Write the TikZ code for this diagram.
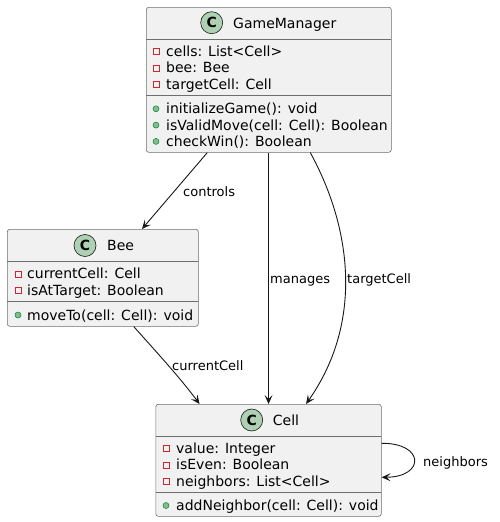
\documentclass[tikz,border=0pt]{standalone}
\usepackage{fontspec}
\setmainfont{DejaVu Sans}
\usetikzlibrary{arrows.meta}
\definecolor{boxfill}{HTML}{F1F1F1}
\definecolor{boxline}{HTML}{181818}
\definecolor{boxedge}{HTML}{6E6E6E}
\definecolor{circfill}{HTML}{ADD1B2}
\definecolor{privred}{HTML}{C82930}
\definecolor{pubfill}{HTML}{84BE84}
\definecolor{publine}{HTML}{038048}
\begin{document}
\begin{tikzpicture}[x=1pt,y=-1pt,
  classbox/.style={draw=boxedge,line width=0.6pt,fill=boxfill,rounded corners=2.5pt,inner sep=0pt,anchor=north west},
  member/.style={anchor=base west,inner sep=0pt,font=\fontsize{14}{16}\selectfont,text=black},
  elabel/.style={anchor=base west,inner sep=0pt,font=\fontsize{13}{15}\selectfont,text=black},
  cicon/.style={circle,draw=boxline,line width=0.6pt,fill=circfill,minimum size=22pt,inner sep=0pt,font=\fontsize{14}{16}\selectfont\bfseries},
  priv/.style={rectangle,draw=privred,line width=0.6pt,minimum size=6pt,inner sep=0pt},
  pub/.style={circle,draw=publine,fill=pubfill,line width=0.5pt,minimum size=6pt,inner sep=0pt},
  sepline/.style={draw=boxedge,line width=0.6pt},
  conn/.style={draw=boxline,line width=0.9pt,-{Stealth[length=9pt,width=8pt,inset=4pt]}}
]
\useasboundingbox (0,0) rectangle (499,522);

% ---------- GameManager ----------
\node[classbox,minimum width=245pt,minimum height=145pt] (gm) at (146,7) {};
\draw[sepline] (146,39) -- (391,39);
\draw[sepline] (146,95.5) -- (391,95.5);
\node[cicon] (gmc) at (211.7,22.7) {C};
\node[member] (gmt) at (233,28) {GameManager};
\node[priv] (gmi1) at (156,51.5) {};
\node[member] (gma1) at (166,56.5) {cells: List<Cell>};
\node[priv] (gmi2) at (156,67.8) {};
\node[member] (gma2) at (166,72.8) {bee: Bee};
\node[priv] (gmi3) at (156,84.1) {};
\node[member] (gma3) at (166,89.1) {targetCell: Cell};
\node[pub] (gmi4) at (156,108.8) {};
\node[member] (gmm1) at (166,113.8) {initializeGame(): void};
\node[pub] (gmi5) at (156,125.1) {};
\node[member] (gmm2) at (166,130.1) {isValidMove(cell: Cell): Boolean};
\node[pub] (gmi6) at (156,141.4) {};
\node[member] (gmm3) at (166,146.4) {checkWin(): Boolean};

% ---------- Bee ----------
\node[classbox,minimum width=191pt,minimum height=97pt] (bee) at (7,229) {};
\draw[sepline] (7,261.5) -- (198,261.5);
\draw[sepline] (7,301.6) -- (198,301.6);
\node[cicon] (beec) at (85,245.5) {C};
\node[member] (beet) at (107,250.5) {Bee};
\node[priv] (beei1) at (18,273.8) {};
\node[member] (beea1) at (27,278.8) {currentCell: Cell};
\node[priv] (beei2) at (18,290.1) {};
\node[member] (beea2) at (27,295.1) {isAtTarget: Boolean};
\node[pub] (beei3) at (18,315) {};
\node[member] (beem1) at (27,320) {moveTo(cell: Cell): void};

% ---------- Cell ----------
\node[classbox,minimum width=225.5pt,minimum height=112pt] (cell) at (155.5,404) {};
\draw[sepline] (155.5,436) -- (381,436);
\draw[sepline] (155.5,492.6) -- (381,492.6);
\node[cicon] (cellc) at (251.7,420) {C};
\node[member] (cellt) at (272.7,425) {Cell};
\node[priv] (celli1) at (166,448.5) {};
\node[member] (cella1) at (176,453.5) {value: Integer};
\node[priv] (celli2) at (166,464.8) {};
\node[member] (cella2) at (176,469.8) {isEven: Boolean};
\node[priv] (celli3) at (166,481.1) {};
\node[member] (cella3) at (176,486.1) {neighbors: List<Cell>};
\node[pub] (celli4) at (166,505.5) {};
\node[member] (cellm1) at (176,510.5) {addNeighbor(cell: Cell): void};

% ---------- connectors ----------
\draw[conn] ([xshift=-61.5pt]gm.south) -- ([xshift=39.2pt]bee.north);
\draw[conn] ([xshift=-0.25pt]gm.south) -- (cell.north);
\draw[conn] ([xshift=41.5pt]gm.south) .. controls (350,225) and (365,320) .. ([xshift=37.5pt]cell.north);
\draw[conn] ([xshift=31pt]bee.south) .. controls (150,345) and (178,375) .. ([xshift=-69pt]cell.north);
\draw[conn] ([yshift=17pt]cell.east) .. controls (425,443) and (425,477) .. ([yshift=-17pt]cell.east);

% ---------- labels ----------
\node[elabel] (lcontrols) at (183,196) {controls};
\node[elabel] (lmanages) at (270,283) {manages};
\node[elabel] (ltarget) at (347,283) {targetCell};
\node[elabel] (lcurrent) at (172,370) {currentCell};
\node[elabel] (lneigh) at (423,466) {neighbors};
\end{tikzpicture}
\end{document}
